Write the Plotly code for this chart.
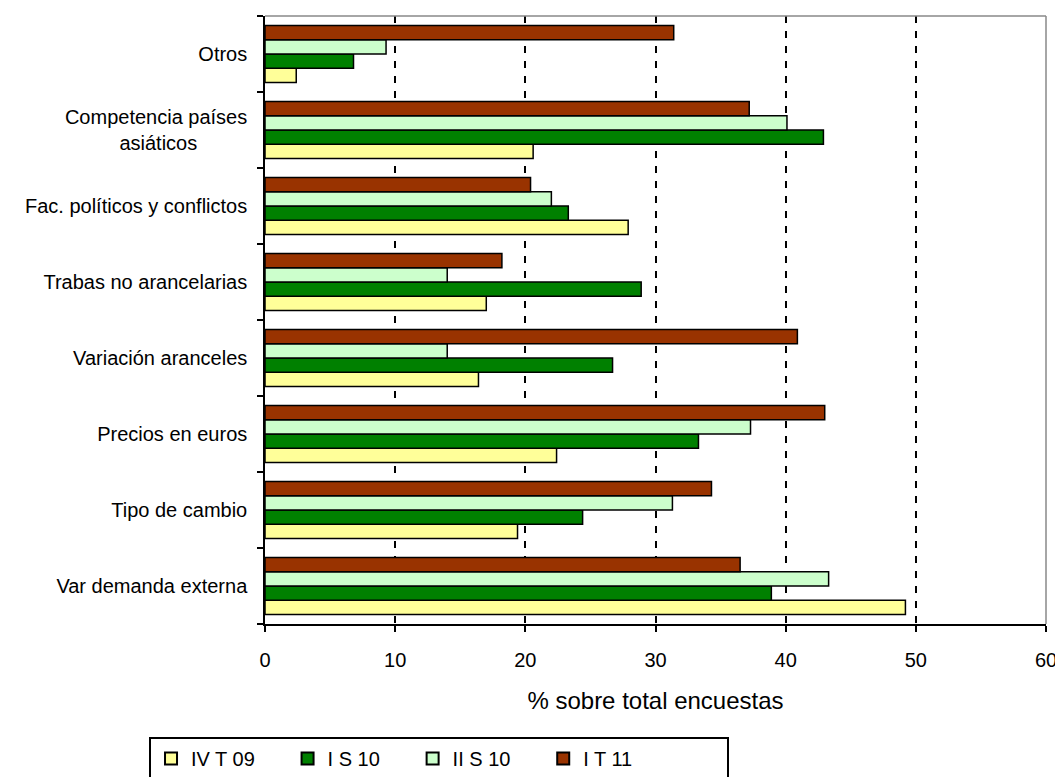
import plotly.graph_objects as go

categories = [
    "Var demanda externa",
    "Tipo de cambio",
    "Precios en euros",
    "Variación aranceles",
    "Trabas no arancelarias",
    "Fac. políticos y conflictos",
    "Competencia países<br>asiáticos" + "\u00a0" * 9,
    "Otros",
]
series_names = ["IV T 09", "I S 10", "II S 10", "I T 11"]
iv_t_09 = [49.2, 19.4, 22.4, 16.4, 17.0, 27.9, 20.6, 2.4]
i_s_10 = [38.9, 24.4, 33.3, 26.7, 28.9, 23.3, 42.9, 6.8]
ii_s_10 = [43.3, 31.3, 37.3, 14.0, 14.0, 22.0, 40.1, 9.3]
i_t_11 = [36.5, 34.3, 43.0, 40.9, 18.2, 20.4, 37.2, 31.4]
colors = ["#FFFF99", "#008000", "#CCFFCC", "#993300"]
x_ticks = [0, 10, 20, 30, 40, 50, 60]
legend_pad = [5, 5, 5, 16]

fig = go.Figure()
series_vals = [iv_t_09, i_s_10, ii_s_10, i_t_11]
for name, vals, col, pad in zip(series_names, series_vals, colors, legend_pad):
    fig.add_trace(go.Bar(
        y=categories, x=vals, name=name + "\u00a0" * pad, orientation="h",
        marker=dict(color=col, line=dict(color="black", width=1.5)),
    ))

font = "Liberation Sans, Arial, sans-serif"
fig.update_layout(
    width=1063, height=800,
    barmode="group", bargap=0.25, bargroupgap=0,
    plot_bgcolor="white", paper_bgcolor="white",
    margin=dict(l=257, r=25, t=8, b=184),
    font=dict(family=font, size=20, color="black"),
    showlegend=True,
    legend=dict(
        orientation="h", x=-0.1485, y=-0.186, xanchor="left", yanchor="top",
        bordercolor="black", borderwidth=2, traceorder="normal",
        font=dict(size=20, family=font),
        itemsizing="constant", itemwidth=30,
    ),
    xaxis=dict(
        range=[0, 60], tickvals=x_ticks, ticks="outside", ticklen=6,
        tickwidth=1.5, tickcolor="black",
        showline=True, linecolor="black", linewidth=1.5,
        showgrid=True, gridcolor="black", gridwidth=2, griddash="7px,8px",
        zeroline=False, mirror=False, automargin=False,
        ticklabelstandoff=11,
        title=dict(text="% sobre total encuestas", standoff=22),
        tickfont=dict(size=20),
    ),
    yaxis=dict(
        type="category", categoryorder="array", categoryarray=categories,
        tickson="boundaries", ticks="outside", ticklen=6, tickwidth=1.5,
        tickcolor="black", showline=True, linecolor="black", linewidth=1.5,
        showgrid=False, ticklabelstandoff=12, automargin=False,
        tickfont=dict(size=20),
    ),
    shapes=[
        dict(type="line", xref="paper", yref="paper", x0=0, x1=1, y0=1, y1=1,
             line=dict(color="#888888", width=1.5)),
        dict(type="line", xref="paper", yref="paper", x0=1, x1=1, y0=0, y1=1,
             line=dict(color="#888888", width=1.5)),
    ],
)

fig.write_html("out.html")
